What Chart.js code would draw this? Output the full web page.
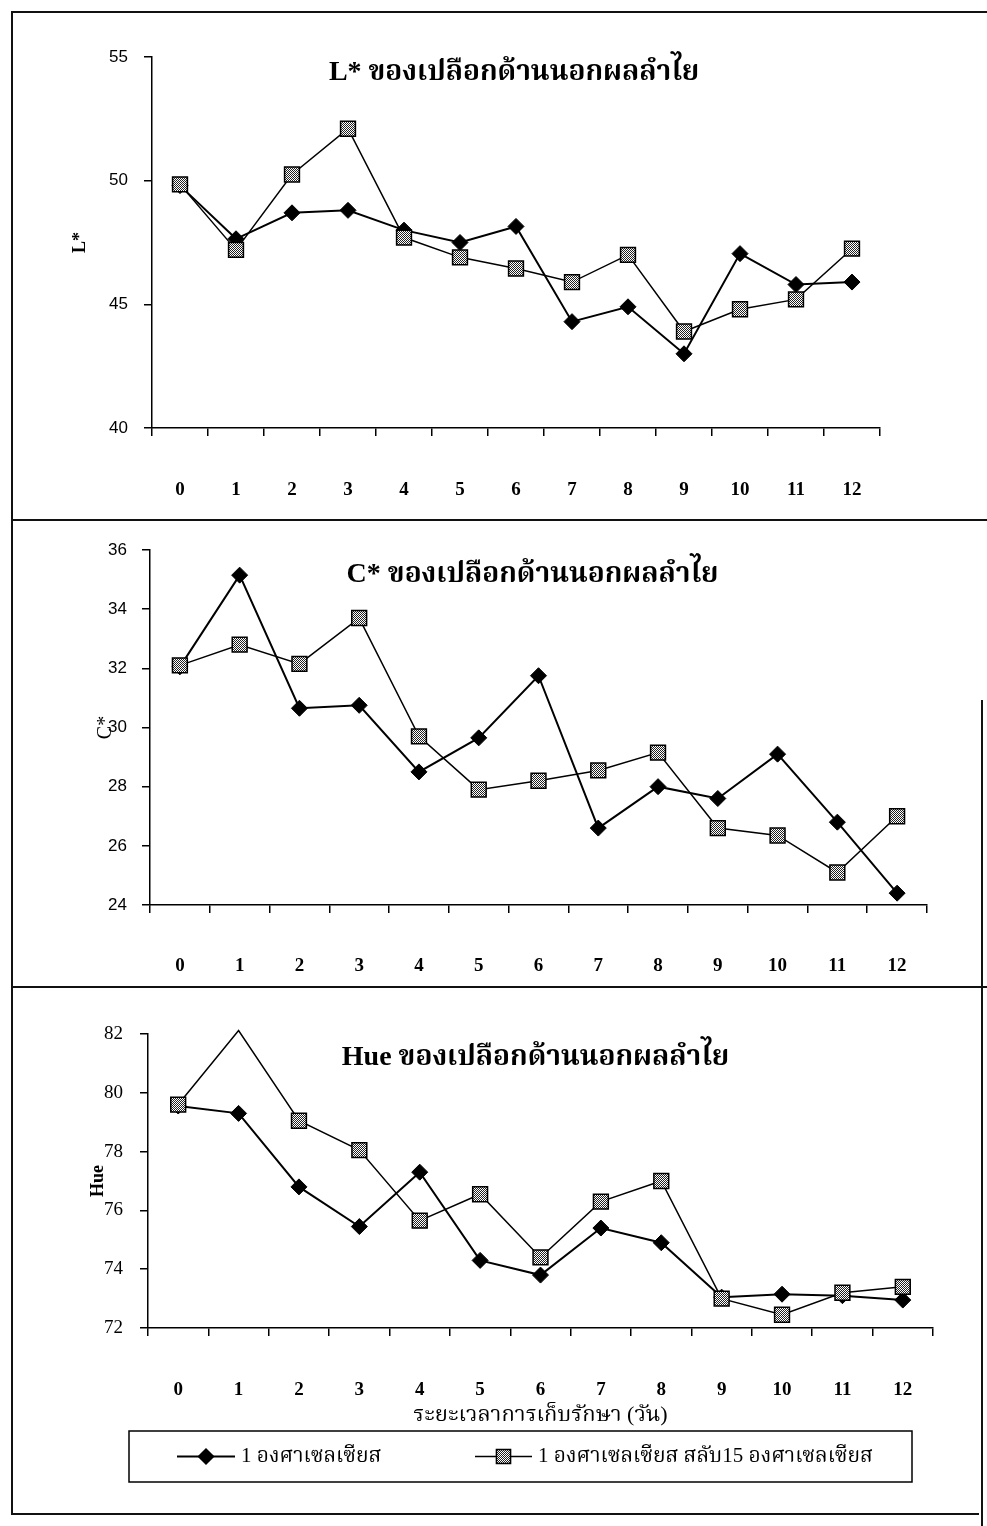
<!DOCTYPE html>
<html>
<head>
<meta charset="utf-8">
<script src="https://cdn.jsdelivr.net/npm/chart.js@4.4.1/dist/chart.umd.min.js"></script>
<style>
  html, body { margin: 0; padding: 0; background: #fff; }
  #page { position: relative; width: 987px; height: 1526px; overflow: hidden; background: #fff; }
  .box { position: absolute; left: 0; width: 987px; }
  .box canvas { display: block; }
  .ln { position: absolute; background: #111; }
</style>
</head>
<body>
<div id="page">
  <div class="box" style="top:0;height:518px"><canvas id="c1" width="987" height="518"></canvas></div>
  <div class="box" style="top:518px;height:467px"><canvas id="c2" width="987" height="467"></canvas></div>
  <div class="box" style="top:985px;height:541px"><canvas id="c3" width="987" height="541"></canvas></div>
  <div class="ln" style="left:11px;top:11px;width:976px;height:2px"></div>
  <div class="ln" style="left:11px;top:11px;width:2px;height:1503px"></div>
  <div class="ln" style="left:11px;top:519px;width:976px;height:2px"></div>
  <div class="ln" style="left:11px;top:986px;width:976px;height:2px"></div>
  <div class="ln" style="left:11px;top:1513px;width:968px;height:2px"></div>
  <div class="ln" style="left:981px;top:700px;width:2px;height:826px"></div>
</div>
<script>
// ---------- data ----------
const days = ['0','1','2','3','4','5','6','7','8','9','10','11','12'];
const seriesNames = ['1 องศาเซลเซียส', '1 องศาเซลเซียส สลับ15 องศาเซลเซียส'];
const chartTitles = ['L* ของเปลือกด้านนอกผลลำไย', 'C* ของเปลือกด้านนอกผลลำไย', 'Hue ของเปลือกด้านนอกผลลำไย'];
const yTitles = ['L*', 'C*', 'Hue'];
const xTitle = 'ระยะเวลาการเก็บรักษา (วัน)';

const lStar1 = [49.8, 47.65, 48.7, 48.8, 48.0, 47.5, 48.15, 44.3, 44.9, 43.0, 47.05, 45.8, 45.9];
const lStar2 = [49.85, 47.2, 50.25, 52.1, 47.7, 46.9, 46.45, 45.9, 47.0, 43.9, 44.8, 45.2, 47.25];

const cStar1 = [32.05, 35.15, 30.65, 30.75, 28.5, 29.65, 31.75, 26.6, 28.0, 27.6, 29.1, 26.8, 24.4];
const cStar2 = [32.1, 32.8, 32.15, 33.7, 29.7, 27.9, 28.2, 28.55, 29.15, 26.6, 26.35, 25.1, 27.0];

const hue1 = [79.55, 79.3, 76.8, 75.45, 77.3, 74.3, 73.8, 75.4, 74.9, 73.05, 73.15, 73.1, 72.95];
const hue2 = [79.6, 82.12, 79.05, 78.05, 75.65, 76.55, 74.4, 76.3, 77.0, 73.0, 72.45, 73.2, 73.4];

// ---------- styling helpers ----------
const THAI = "'Noto Serif Thai','Noto Sans Thai','Loma','Garuda','Norasi','Kinnari','Tlwg Typo'";
const SERIF = "'Liberation Serif','DejaVu Serif'," + THAI + ",serif";
const SANS = "'Liberation Sans','DejaVu Sans'," + THAI + ",sans-serif";

function makePattern(canvas) {
  const p = document.createElement('canvas');
  p.width = 2; p.height = 2;
  const px = p.getContext('2d');
  px.fillStyle = '#fff'; px.fillRect(0, 0, 2, 2);
  px.fillStyle = '#222'; px.fillRect(0, 0, 1, 1); px.fillRect(1, 1, 1, 1);
  return canvas.getContext('2d').createPattern(p, 'repeat');
}

const inTitle = {
  id: 'inTitle',
  afterDatasetsDraw(chart, args, o) {
    const { ctx, chartArea: a } = chart;
    ctx.save();
    ctx.font = o.font;
    ctx.fillStyle = '#000';
    ctx.textAlign = 'center';
    ctx.textBaseline = 'middle';
    ctx.fillText(o.text, (a.left + a.right) / 2 + (o.dx || 0), a.top + o.dy);
    ctx.restore();
  }
};

function drawMarker(ctx, style, r, x, y, fill) {
  ctx.beginPath();
  if (style === 'rectRot') {
    ctx.moveTo(x - r, y); ctx.lineTo(x, y - r); ctx.lineTo(x + r, y); ctx.lineTo(x, y + r);
  } else {
    const s = Math.SQRT1_2 * r;
    ctx.rect(x - s, y - s, 2 * s, 2 * s);
  }
  ctx.closePath();
  ctx.fillStyle = fill; ctx.fill();
  ctx.lineWidth = 1.5; ctx.strokeStyle = '#000'; ctx.stroke();
}

const boxLegend = {
  id: 'boxLegend',
  afterDraw(chart, args, o) {
    const ctx = chart.ctx;
    ctx.save();
    ctx.strokeStyle = '#000';
    ctx.lineWidth = 1.5;
    ctx.strokeRect(o.x, o.y, o.w, o.h);
    const cy = o.y + o.h / 2;
    chart.data.datasets.forEach((ds, i) => {
      const it = o.items[i];
      ctx.beginPath();
      ctx.moveTo(it.x0, cy); ctx.lineTo(it.x1, cy);
      ctx.lineWidth = ds.borderWidth; ctx.strokeStyle = '#000'; ctx.stroke();
      drawMarker(ctx, ds.pointStyle, it.r, (it.x0 + it.x1) / 2, cy, ds.pointBackgroundColor);
      ctx.font = o.font;
      ctx.fillStyle = '#000';
      ctx.textAlign = 'left';
      ctx.textBaseline = 'middle';
      ctx.fillText(ds.label, it.tx, cy);
    });
    ctx.restore();
  }
};

function datasets(canvas, d1, d2) {
  const pat = makePattern(canvas);
  return [
    { label: seriesNames[0], data: d1, borderColor: '#000', borderWidth: 2, tension: 0,
      pointStyle: 'rectRot', pointRadius: 8, pointBackgroundColor: '#000', pointBorderColor: '#000',
      pointBorderWidth: 1, order: 2, clip: false },
    { label: seriesNames[1], data: d2, borderColor: '#000', borderWidth: 1.5, tension: 0,
      pointStyle: 'rect', pointRadius: c => (c.raw > c.chart.scales.y.max ? 0 : 10.5),
      pointBackgroundColor: pat, pointBorderColor: '#000', pointBorderWidth: 1.5, order: 1, clip: false }
  ];
}

function xScale(h, pad, title) {
  return {
    type: 'category', offset: true,
    grid: { display: true, offset: true, drawOnChartArea: false, drawTicks: true, tickLength: 8, color: '#000', lineWidth: 1.5 },
    border: { display: true, color: '#000', width: 1.5 },
    ticks: { color: '#000', padding: pad, maxRotation: 0, autoSkip: false,
             font: { family: SERIF, size: 19, weight: 'bold' } },
    title: title ? { display: true, text: title, color: '#000', padding: { top: 0, bottom: 0 },
                     font: { family: SERIF, size: 22 } } : { display: false },
    afterFit: s => { s.height = h; }
  };
}

function yScale(min, max, step, w, tpad, tFont, title, titlePad, titleFont) {
  return {
    min: min, max: max,
    grid: { display: true, drawOnChartArea: false, drawTicks: true, tickLength: 8, color: '#000', lineWidth: 1.5 },
    border: { display: true, color: '#000', width: 1.5 },
    ticks: { stepSize: step, color: '#000', padding: tpad, font: tFont },
    title: { display: true, text: title, color: '#000', padding: { top: titlePad, bottom: 0 }, font: titleFont },
    afterFit: s => { s.width = w; }
  };
}

const base = { responsive: false, animation: false, events: [] };

// ---------- chart 1 : L* ----------
const cv1 = document.getElementById('c1');
new Chart(cv1, {
  type: 'line',
  data: { labels: days, datasets: datasets(cv1, lStar1, lStar2) },
  plugins: [inTitle],
  options: Object.assign({}, base, {
    layout: { padding: { left: 0, top: 57, right: 107, bottom: 10 } },
    scales: {
      x: xScale(80, 43),
      y: yScale(40, 55, 5, 152, 16, { family: SANS, size: 17 }, yTitles[0], 70,
                { family: SERIF, size: 18, weight: 'bold' })
    },
    plugins: {
      legend: { display: false }, tooltip: { enabled: false },
      inTitle: { text: chartTitles[0], font: "bold 28px " + SERIF, dy: 16, dx: -2 }
    }
  })
});

// ---------- chart 2 : C* ----------
const cv2 = document.getElementById('c2');
new Chart(cv2, {
  type: 'line',
  data: { labels: days, datasets: datasets(cv2, cStar1, cStar2) },
  plugins: [inTitle],
  options: Object.assign({}, base, {
    layout: { padding: { left: 0, top: 32, right: 60, bottom: 10 } },
    scales: {
      x: xScale(70, 42),
      y: yScale(24, 36, 2, 150, 15, { family: SANS, size: 17 }, yTitles[1], 94,
                { family: SERIF, size: 20 })
    },
    plugins: {
      legend: { display: false }, tooltip: { enabled: false },
      inTitle: { text: chartTitles[1], font: "bold 28px " + SERIF, dy: 25, dx: -6 }
    }
  })
});

// ---------- chart 3 : Hue ----------
const cv3 = document.getElementById('c3');
new Chart(cv3, {
  type: 'line',
  data: { labels: days, datasets: datasets(cv3, hue1, hue2) },
  plugins: [inTitle, boxLegend],
  options: Object.assign({}, base, {
    layout: { padding: { left: 0, top: 49, right: 54, bottom: 98 } },
    scales: {
      x: xScale(100, 43, xTitle),
      y: yScale(72, 82, 2, 148, 17, { family: SERIF, size: 19 }, yTitles[2], 88,
                { family: SERIF, size: 18, weight: 'bold' })
    },
    plugins: {
      legend: { display: false }, tooltip: { enabled: false },
      inTitle: { text: chartTitles[2], font: "bold 28px " + SERIF, dy: 24, dx: -5 },
      boxLegend: {
        x: 129, y: 446, w: 783, h: 51, font: "21px " + SERIF,
        items: [ { x0: 177, x1: 235, tx: 241, r: 7.5 }, { x0: 475, x1: 532, tx: 538, r: 10 } ]
      }
    }
  })
});
</script>
</body>
</html>
